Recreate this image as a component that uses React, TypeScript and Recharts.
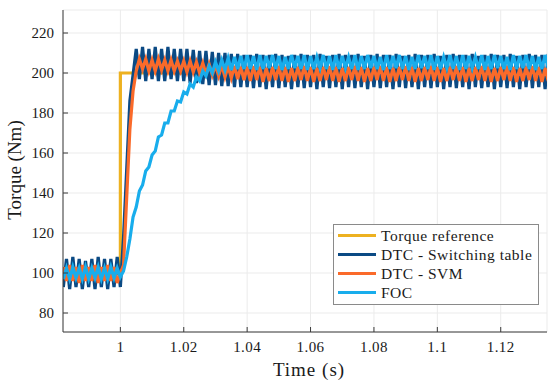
import { LineChart, Line, XAxis, YAxis, CartesianGrid, Label } from 'recharts'

// sample times (s)
const TIME = [
  0.982, 0.983, 0.984, 0.985, 0.986, 0.987, 0.988, 0.989, 0.990, 0.991,
  0.992, 0.993, 0.994, 0.995, 0.996, 0.997, 0.998, 0.999, 1.000, 1.001,
  1.002, 1.003, 1.004, 1.005, 1.006, 1.007, 1.008, 1.009, 1.010, 1.011,
  1.012, 1.013, 1.014, 1.015, 1.016, 1.017, 1.018, 1.019, 1.020, 1.021,
  1.022, 1.023, 1.024, 1.025, 1.026, 1.027, 1.028, 1.029, 1.030, 1.031,
  1.032, 1.033, 1.034, 1.035, 1.036, 1.037, 1.038, 1.039, 1.040, 1.041,
  1.042, 1.043, 1.044, 1.045, 1.046, 1.047, 1.048, 1.049, 1.050, 1.051,
  1.052, 1.053, 1.054, 1.055, 1.056, 1.057, 1.058, 1.059, 1.060, 1.061,
  1.062, 1.063, 1.064, 1.065, 1.066, 1.067, 1.068, 1.069, 1.070, 1.071,
  1.072, 1.073, 1.074, 1.075, 1.076, 1.077, 1.078, 1.079, 1.080, 1.081,
  1.082, 1.083, 1.084, 1.085, 1.086, 1.087, 1.088, 1.089, 1.090, 1.091,
  1.092, 1.093, 1.094, 1.095, 1.096, 1.097, 1.098, 1.099, 1.100, 1.101,
  1.102, 1.103, 1.104, 1.105, 1.106, 1.107, 1.108, 1.109, 1.110, 1.111,
  1.112, 1.113, 1.114, 1.115, 1.116, 1.117, 1.118, 1.119, 1.120, 1.121,
  1.122, 1.123, 1.124, 1.125, 1.126, 1.127, 1.128, 1.129, 1.130, 1.131,
  1.132, 1.133, 1.134, 1.135,
]

// DTC - switching table torque (Nm)
const DTC_ST = [
  93, 107, 92, 108, 93, 107, 92, 106, 93, 107,
  92, 108, 93, 107, 92, 107, 93, 108, 93, 118,
  152, 186, 199, 212, 197, 213, 196, 212, 197, 213,
  196, 212, 196, 213, 197, 212, 196, 212, 196, 212,
  195, 211.5, 195, 211, 194.5, 211, 194, 210.5, 194, 210,
  193.5, 210, 193.5, 209.5, 193, 209.5, 193, 209, 193, 209,
  192.5, 209.5, 193, 209, 192, 209, 193, 209.5, 192.5, 209,
  193, 208.5, 192, 209, 193, 209.5, 192.5, 209, 193, 209,
  192, 209.5, 193, 208.5, 192.5, 209, 193, 209.5, 192, 209,
  193, 209, 192.5, 209.5, 193, 208.5, 192, 209, 193, 209.5,
  192.5, 209, 193, 209, 192, 209.5, 193, 208.5, 192.5, 209,
  193, 209.5, 192, 209, 193, 209, 192.5, 209.5, 193, 208.5,
  192, 209, 193, 209.5, 192.5, 209, 193, 209, 192, 209.5,
  193, 208.5, 192.5, 209, 193, 209.5, 192, 209, 193, 209,
  192.5, 209.5, 193, 208.5, 192, 209, 193, 209.5, 192.5, 209,
  193, 209, 192, 209.5,
]

// DTC - SVM torque (Nm)
const DTC_SVM = [
  103, 96, 104, 96, 103, 95, 104, 96, 103, 96,
  104, 95, 103, 96, 104, 96, 103, 95, 100, 104,
  138, 172, 191, 201, 207, 202, 207, 201, 206.5, 201,
  207, 201.5, 206.5, 201, 206.5, 201, 206, 201, 206, 200.5,
  206, 200.5, 205.5, 200, 205, 199.5, 204.5, 199, 204, 198.5,
  204, 198, 203.5, 197.5, 203.5, 197, 203, 196.5, 203, 196,
  203.5, 196.5, 203, 195.5, 202.5, 196, 203, 196.5, 203.5, 196,
  203, 195.5, 202.5, 196, 203, 196.5, 203.5, 196, 203, 195.5,
  202.5, 196, 203, 196.5, 203.5, 196, 203, 195.5, 202.5, 196,
  203, 196.5, 203.5, 196, 203, 195.5, 202.5, 196, 203, 196.5,
  203.5, 196, 203, 195.5, 202.5, 196, 203, 196.5, 203.5, 196,
  203, 195.5, 202.5, 196, 203, 196.5, 203.5, 196, 203, 195.5,
  202.5, 196, 203, 196.5, 203.5, 196, 203, 195.5, 202.5, 196,
  203, 196.5, 203.5, 196, 203, 195.5, 202.5, 196, 203, 196.5,
  203.5, 196, 203, 195.5, 202.5, 196, 203, 196.5, 203.5, 196,
  203, 195.5, 202.5, 196,
]

// FOC torque (Nm)
const FOC = [
  97, 102.5, 97, 103, 97.5, 102.5, 97, 103, 97, 102.5,
  97.5, 103, 97, 102.5, 97, 103, 97.5, 102.5, 98, 101,
  108, 117, 128, 133, 141, 144, 151, 153, 159, 161,
  168, 169, 175, 175, 181, 181, 186, 185.5, 190.5, 189.5,
  194.5, 193, 198, 196, 201, 198.5, 203.5, 200, 205.5, 201,
  206.5, 201.5, 207.5, 201.5, 208, 202, 208.5, 202, 209, 202,
  208.5, 201.5, 209, 202, 208.5, 202.5, 209, 202, 208.5, 201.5,
  208, 202, 209, 202.5, 208.5, 202, 209, 201.5, 208.5, 202,
  208, 202.5, 209, 202, 208.5, 201.5, 209, 202, 208.5, 202.5,
  208, 202, 209, 201.5, 208.5, 202, 209, 202.5, 208.5, 202,
  208, 201.5, 209, 202, 208.5, 202.5, 209, 202, 208.5, 201.5,
  208, 202, 209, 202.5, 208.5, 202, 209, 201.5, 208.5, 202,
  208, 202.5, 209, 202, 208.5, 201.5, 209, 202, 208.5, 202.5,
  208, 202, 209, 201.5, 208.5, 202, 209, 202.5, 208.5, 202,
  208, 201.5, 209, 202, 208.5, 202.5, 209, 202, 208.5, 201.5,
  208, 202, 209, 202.5,
]

// torque reference step
const REF_TIME = [0.982, 1.0, 1.0, 1.135]
const REF_TORQUE = [100, 100, 200, 200]

const X_TICKS = [1, 1.02, 1.04, 1.06, 1.08, 1.1, 1.12]
const Y_TICKS = [80, 100, 120, 140, 160, 180, 200, 220]

const SERIES = [
  { key: 'ref', name: 'Torque reference', color: '#EDB120' },
  { key: 'st', name: 'DTC - Switching table', color: '#0B4A84' },
  { key: 'svm', name: 'DTC - SVM', color: '#FA6A2A' },
  { key: 'foc', name: 'FOC', color: '#18ADEC' },
]

const AXIS = '#3a3a3a'
const FONT = "'Liberation Serif', 'Times New Roman', Times, serif"
const X_DOMAIN = [0.9819, 1.1346]
const Y_DOMAIN = [70.5, 231.5]
const LW = 3.2

const data = TIME.map((t, i) => ({ t, st: DTC_ST[i], svm: DTC_SVM[i], foc: FOC[i] }))
const refData = REF_TIME.map((t, i) => ({ t, ref: REF_TORQUE[i] }))

// ── ticks pointing inward (matlab box style) ──

function BottomTick({ x, y, payload }: any) {
  return (
    <g>
      <line x1={x} y1={y} x2={x} y2={y - 5} stroke={AXIS} />
      <text x={x} y={y + 20} textAnchor="middle" fill="#1a1a1a" fontFamily={FONT} fontSize={15} letterSpacing={0.4}>
        {String(payload.value)}
      </text>
    </g>
  )
}

function LeftTick({ x, y, payload }: any) {
  return (
    <g>
      <line x1={x} y1={y} x2={x + 5} y2={y} stroke={AXIS} />
      <text x={x - 9} y={y + 5} textAnchor="end" fill="#1a1a1a" fontFamily={FONT} fontSize={15}>
        {String(payload.value)}
      </text>
    </g>
  )
}

function TopTick({ x, y }: any) {
  return <line x1={x} y1={y} x2={x} y2={y + 5} stroke={AXIS} />
}

function RightTick({ x, y }: any) {
  return <line x1={x} y1={y} x2={x - 5} y2={y} stroke={AXIS} />
}

function LegendBox() {
  return (
    <div
      style={{
        position: 'absolute', left: 333, top: 224, width: 206, height: 81,
        border: '1px solid #8a8a8a', background: '#fff', fontFamily: FONT, fontSize: 15.5,
        letterSpacing: 0.5, color: '#1a1a1a', paddingTop: 1, boxSizing: 'border-box',
      }}
    >
      {SERIES.map((s) => (
        <div key={s.key} style={{ display: 'flex', alignItems: 'center', height: 19 }}>
          <span style={{ display: 'inline-block', marginLeft: 4, width: 38, height: 3, background: s.color }} />
          <span style={{ marginLeft: 5, whiteSpace: 'nowrap' }}>{s.name}</span>
        </div>
      ))}
    </div>
  )
}

export default function App() {
  return (
    <div style={{ position: 'relative', width: 548, height: 381, background: '#fff' }}>
      <style>{'body{margin:0}'}</style>
      <LineChart width={548} height={381} data={data} margin={{ top: 10, right: 1, bottom: 0, left: 0 }}>
        <CartesianGrid stroke="#ebebeb" strokeWidth={1} />
        <XAxis
          dataKey="t" type="number" domain={X_DOMAIN} ticks={X_TICKS} allowDataOverflow
          height={49} tickSize={0} tickMargin={0} tickLine={false}
          axisLine={{ stroke: AXIS }} tick={<BottomTick />}
        >
          <Label
            content={() => (
              <text x={309} y={376} textAnchor="middle" fill="#1a1a1a" fontFamily={FONT} fontSize={19} letterSpacing={1}>
                Time (s)
              </text>
            )}
          />
        </XAxis>
        <XAxis
          xAxisId="top" orientation="top" dataKey="t" type="number" domain={X_DOMAIN} ticks={X_TICKS}
          allowDataOverflow height={0} tickSize={0} tickMargin={0} tickLine={false}
          axisLine={{ stroke: AXIS }} tick={<TopTick />}
        />
        <YAxis
          type="number" domain={Y_DOMAIN} ticks={Y_TICKS} allowDataOverflow width={63}
          tickSize={0} tickMargin={0} tickLine={false} axisLine={{ stroke: AXIS }} tick={<LeftTick />}
        >
          <Label
            content={() => (
              <text
                x={0} y={0} transform="translate(21 170) rotate(-90)" textAnchor="middle"
                fill="#1a1a1a" fontFamily={FONT} fontSize={19}
              >
                Torque (Nm)
              </text>
            )}
          />
        </YAxis>
        <YAxis
          yAxisId="right" orientation="right" type="number" domain={Y_DOMAIN} ticks={Y_TICKS}
          allowDataOverflow width={0} tickSize={0} tickMargin={0} tickLine={false}
          axisLine={{ stroke: AXIS }} tick={<RightTick />}
        />
        <Line data={refData} dataKey="ref" stroke="#EDB120" strokeWidth={LW} dot={false} isAnimationActive={false} />
        <Line dataKey="st" stroke="#0B4A84" strokeWidth={LW} dot={false} isAnimationActive={false} />
        <Line dataKey="svm" stroke="#FA6A2A" strokeWidth={LW} dot={false} isAnimationActive={false} />
        <Line dataKey="foc" stroke="#18ADEC" strokeWidth={LW} dot={false} isAnimationActive={false} />
      </LineChart>
      <LegendBox />
    </div>
  )
}
